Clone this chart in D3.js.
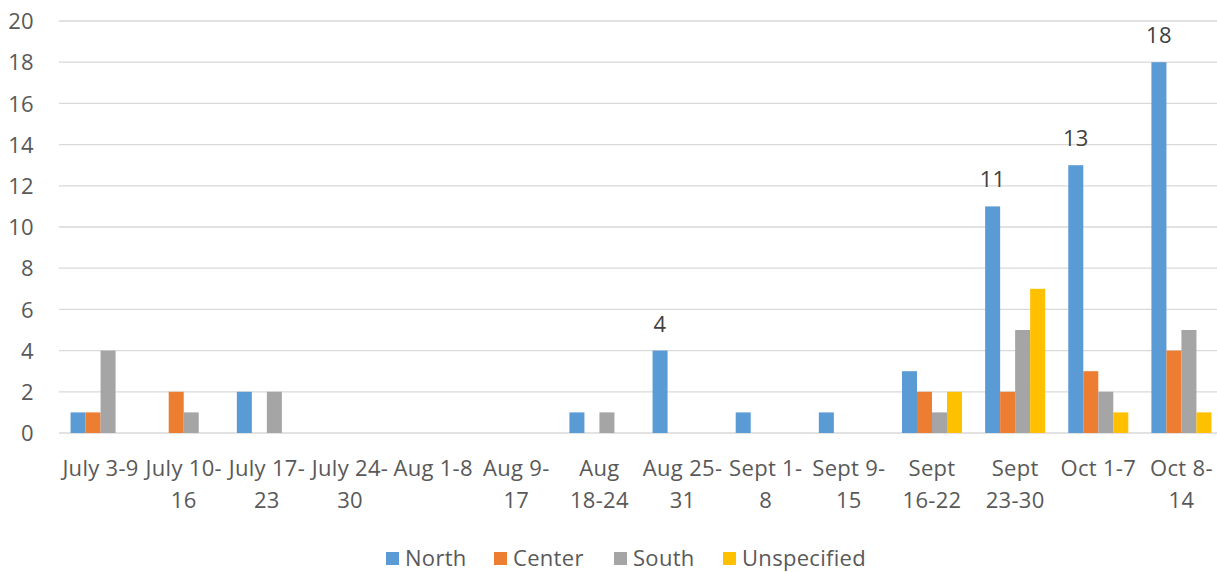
<!DOCTYPE html>
<html><head><meta charset="utf-8">
<script src="https://cdn.jsdelivr.net/npm/d3@7"></script>
<style>body{margin:0;background:#fff;} svg{display:block;} text{font-family:"Open Sans",sans-serif;fill:#595959;letter-spacing:0.3px;}</style>
</head><body>
<svg id="chart" width="1217" height="572"></svg>
<script>
const categories = ["July 3-9","July 10-\n16","July 17-\n23","July 24-\n30","Aug 1-8","Aug 9-\n17","Aug\n18-24","Aug 25-\n31","Sept 1-\n8","Sept 9-\n15","Sept\n16-22","Sept\n23-30","Oct 1-7","Oct 8-\n14"];
const seriesNames = ["North","Center","South","Unspecified"];
const north = [1,0,2,0,0,0,1,4,1,1,3,11,13,18];
const center = [1,2,0,0,0,0,0,0,0,0,2,2,3,4];
const south = [4,1,2,0,0,0,1,0,0,0,1,5,2,5];
const unspecified = [0,0,0,0,0,0,0,0,0,0,2,7,1,1];
const labeledNorth = [4,11,13,18];
const yTicks = [0,2,4,6,8,10,12,14,16,18,20];
const colors = ["#5B9BD5","#ED7D31","#A5A5A5","#FFC000"];

const seriesValues = [north, center, south, unspecified];
const svg = d3.select("#chart");
const mLeft = 59, mRight = 1223, mTop = 21, mBottom = 433;
const fs = 22;

const x = d3.scaleBand().domain(categories).range([mLeft, mRight]).paddingInner(0).paddingOuter(0);
const groupPad = 0.278;
const x1 = d3.scaleBand().domain(seriesNames).range([x.bandwidth()*groupPad/2, x.bandwidth()*(1-groupPad/2)]);
const y = d3.scaleLinear().domain([0,20]).range([mBottom, mTop]);

// gridlines
svg.append("g").selectAll("line").data(yTicks).join("line")
  .attr("x1", mLeft).attr("x2", mRight)
  .attr("y1", d=>y(d)).attr("y2", d=>y(d))
  .attr("stroke", "#D9D9D9").attr("stroke-width", 1.3);

// y axis labels
const yAxis = d3.axisLeft(y).tickValues(yTicks).tickSize(0).tickPadding(0);
const ya = svg.append("g").attr("transform", `translate(34,0)`).call(yAxis);
ya.select(".domain").remove();
ya.selectAll("text").attr("font-size", fs).style("font-family","'Open Sans',sans-serif").attr("fill","#595959").attr("dy","0.35em");

// bars
const groups = svg.append("g").selectAll("g").data(categories).join("g")
  .attr("transform", d=>`translate(${x(d)},0)`);
groups.selectAll("rect").data((d,i)=>seriesNames.map((s,k)=>({s, k, v: seriesValues[k][i]})))
  .join("rect")
  .attr("x", d=>x1(d.s)).attr("width", x1.bandwidth())
  .attr("y", d=>y(d.v)).attr("height", d=>y(0)-y(d.v))
  .attr("fill", d=>colors[d.k]);

// data labels on north
svg.append("g").selectAll("text").data(categories.map((c,i)=>({c, v: north[i]})).filter(d=>labeledNorth.includes(d.v)))
  .join("text")
  .attr("x", d=>x(d.c)+x1("North")+x1.bandwidth()/2)
  .attr("y", d=>y(d.v)-19)
  .attr("text-anchor","middle").attr("font-size", fs)
  .style("fill","#404040")
  .text(d=>d.v);

// x axis labels
const xAxis = d3.axisBottom(x).tickSize(0).tickPadding(0);
const xa = svg.append("g").attr("transform", `translate(0,${mBottom})`).call(xAxis);
xa.select(".domain").remove();
xa.selectAll("text").each(function(d){
  const t = d3.select(this);
  t.text(null).attr("font-size", fs).attr("y", 0).attr("dy", null).style("font-family","'Open Sans',sans-serif").attr("fill","#595959");
  d.split("\n").forEach((line, li)=>{
    t.append("tspan").attr("x", 0).attr("y", 43 + li*32).text(line);
  });
});

// legend
const legendX = [386,494,614,723];
const lg = svg.append("g");
const li = lg.selectAll("g").data(seriesNames).join("g")
  .attr("transform", (d,i)=>`translate(${legendX[i]},552)`);
li.append("rect").attr("width",13).attr("height",13).attr("fill",(d,i)=>colors[i]);
li.append("text").attr("x",19).attr("y",14).attr("font-size",fs).text(d=>d);
</script>
</body></html>
